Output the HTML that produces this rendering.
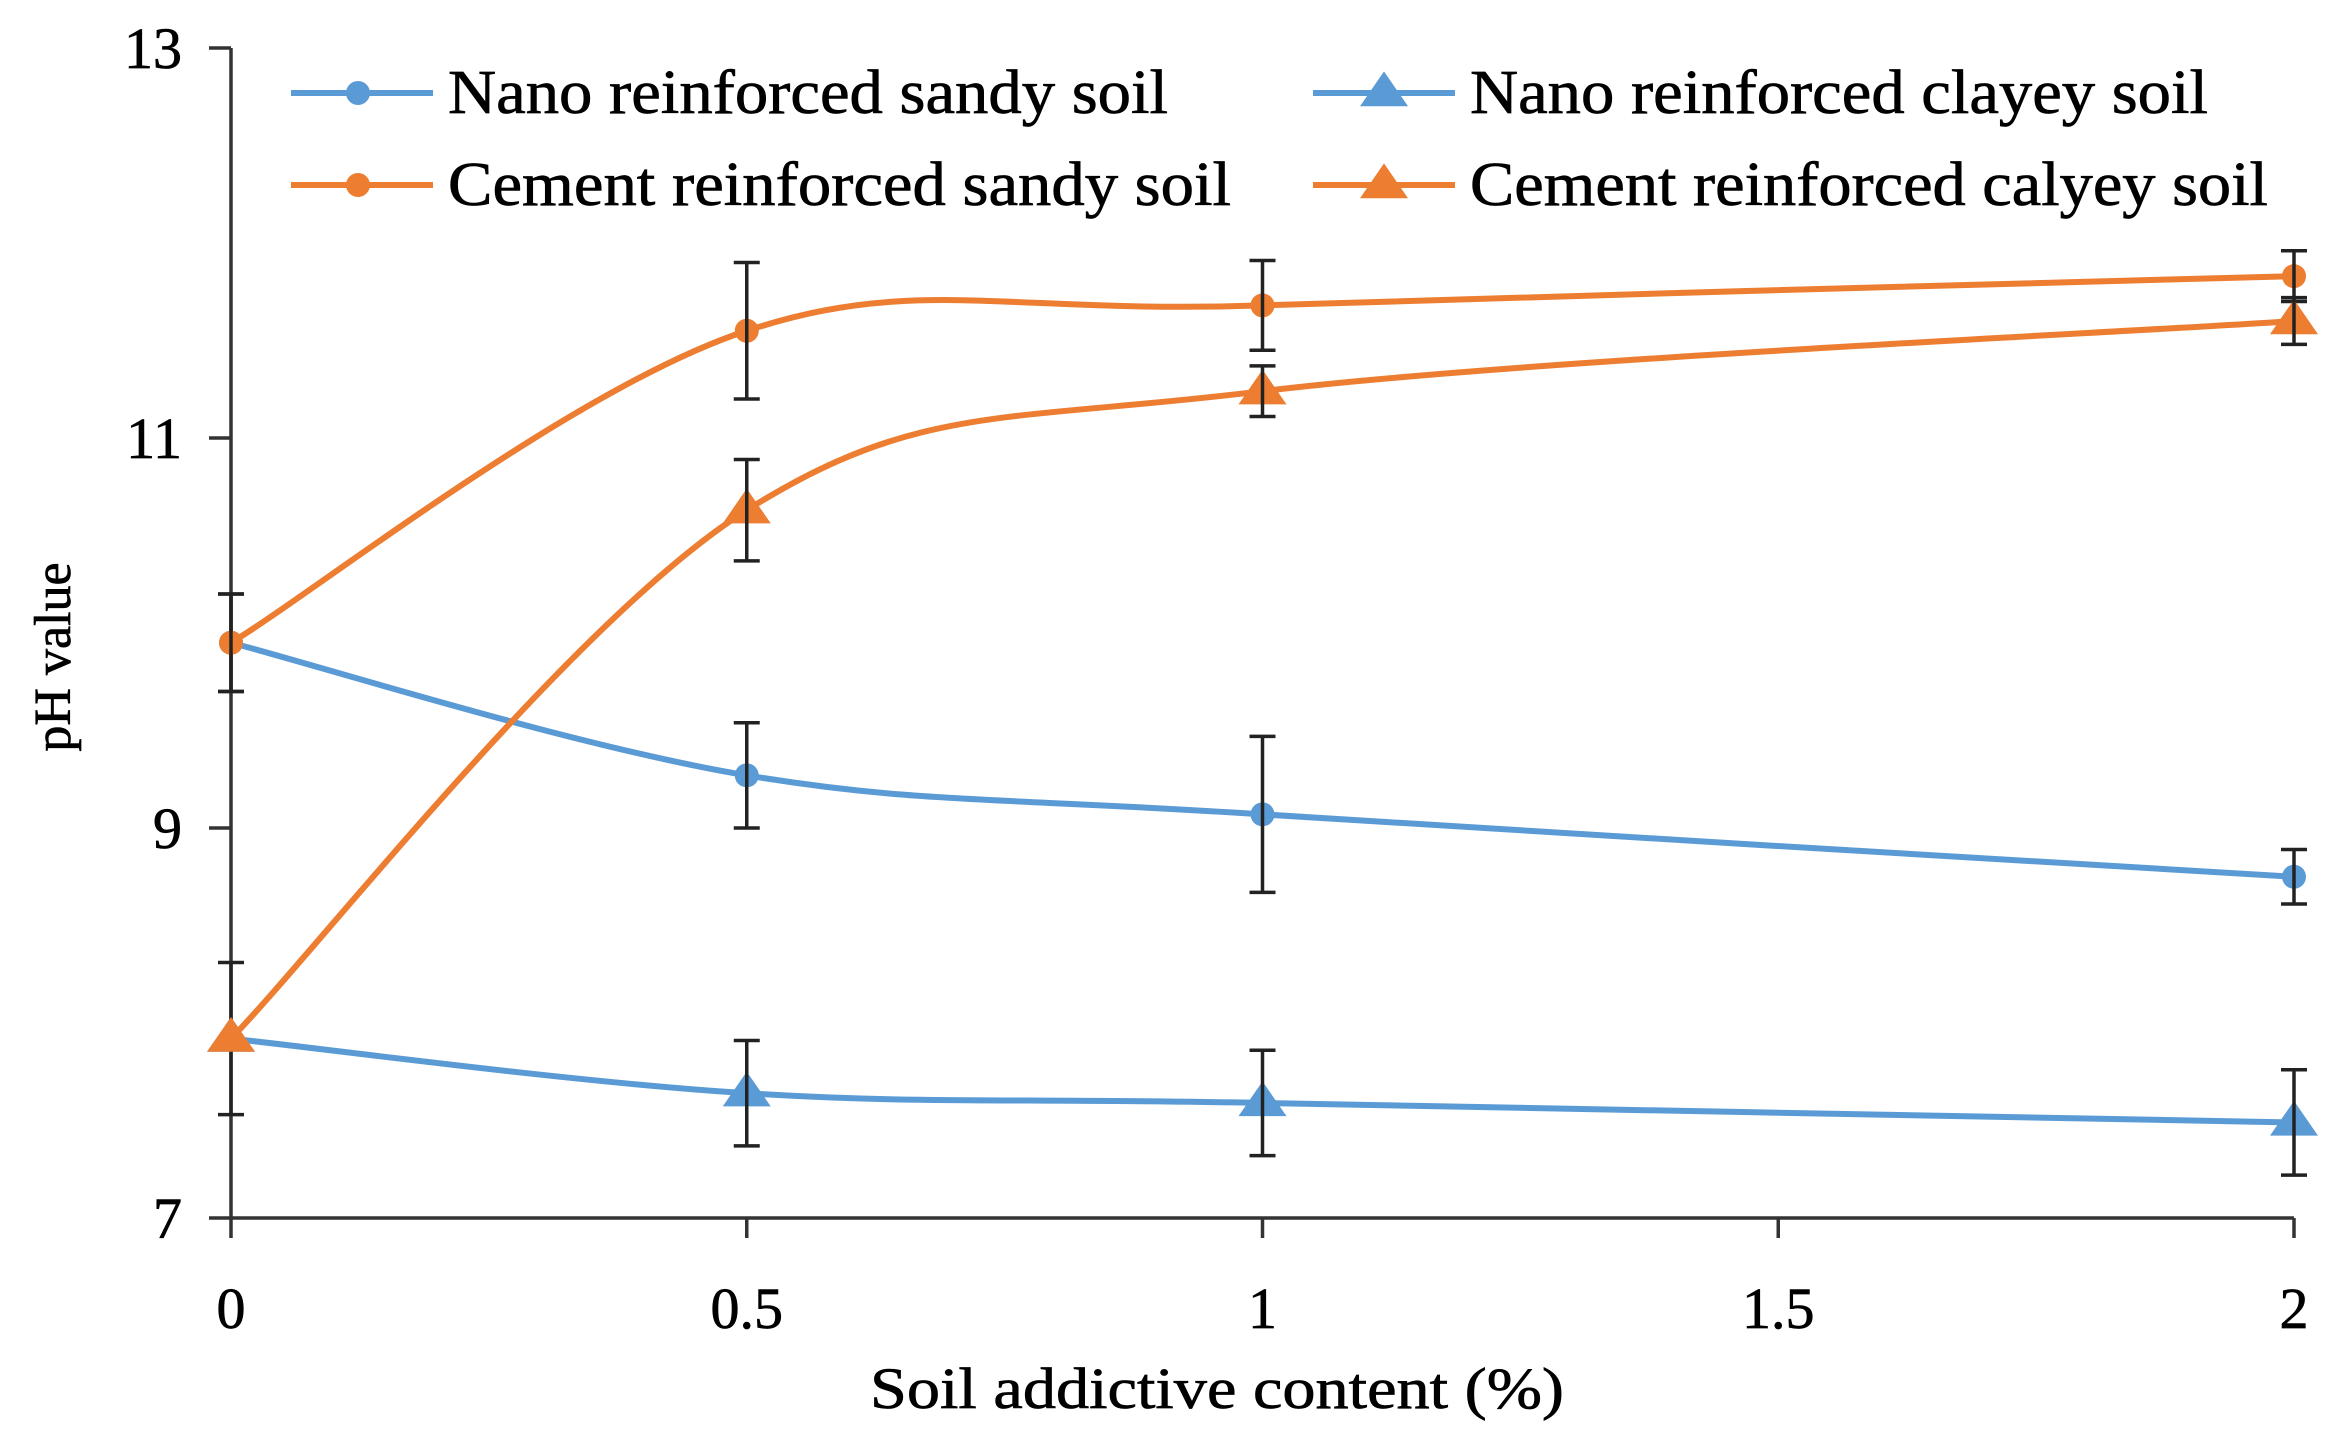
<!DOCTYPE html>
<html><head><meta charset="utf-8"><style>
html,body{margin:0;padding:0;background:#fff}
svg{display:block}
text{font-family:"Liberation Serif",serif;fill:#000;stroke:#000;stroke-width:0.7}
</style></head><body>
<svg id="chart" width="2340" height="1429" viewBox="0 0 2340 1429" xmlns="http://www.w3.org/2000/svg"></svg>
<script>
const xValues=[0,0.5,1,2];
const nanoSandy=[9.95,9.27,9.07,8.75];
const nanoSandyErr=[0.25,0.27,0.4,0.14];
const nanoClayey=[7.92,7.64,7.59,7.49];
const nanoClayeyErr=[0.39,0.27,0.27,0.27];
const cementSandy=[9.95,11.55,11.68,11.83];
const cementSandyErr=[0.25,0.35,0.23,0.13];
const cementClayey=[7.92,10.63,11.24,11.6];
const cementClayeyErr=[0,0.26,0.13,0.12];
const yTicks=[7,9,11,13];
const xTicks=[0,0.5,1,1.5,2];
const xTickLabels=["0","0.5","1","1.5","2"];

const NS="http://www.w3.org/2000/svg";
const svg=document.getElementById('chart');
const X0=231,X1=2294,Y13=48,Y7=1218;
const sx=v=>X0+(v-0)/(2-0)*(X1-X0);
const sy=v=>Y7-(v-7)/(13-7)*(Y7-Y13);
function el(tag,attrs,parent){const e=document.createElementNS(NS,tag);for(const k in attrs)e.setAttribute(k,attrs[k]);(parent||svg).appendChild(e);return e;}
const BLUE="#5B9BD5",ORANGE="#ED7D31";

const ax=el('g',{});


el('line',{x1:X0,y1:Y13,x2:X0,y2:Y7,stroke:'#333','stroke-width':3.5},ax);
el('line',{x1:X0,y1:Y7,x2:X1,y2:Y7,stroke:'#333','stroke-width':3.5},ax);
yTicks.forEach(t=>{
  el('line',{x1:X0-22,y1:sy(t),x2:X0,y2:sy(t),stroke:'#333','stroke-width':3.5},ax);
  const tx=el('text',{x:182,y:sy(t)+20,'text-anchor':'end','font-size':58},ax);
  tx.textContent=t;
  
  
});
xTicks.forEach((t,i)=>{
  el('line',{x1:sx(t),y1:Y7,x2:sx(t),y2:Y7+20,stroke:'#333','stroke-width':3.5},ax);
  const tx=el('text',{x:sx(t),y:1328,'text-anchor':'middle','font-size':58},ax);
  tx.textContent=xTickLabels[i];
  
  
});
const yt=el('text',{x:0,y:0,'text-anchor':'middle','font-size':52,transform:'translate(70,657) rotate(-90)'});
yt.textContent='pH value';


const xt=el('text',{x:1217,y:1408,'text-anchor':'middle','font-size':58,textLength:694,lengthAdjust:'spacingAndGlyphs'});
xt.textContent='Soil addictive content (%)';



function smoothPath(pts){
  let d=`M${pts[0][0]},${pts[0][1]}`;
  for(let i=0;i<pts.length-1;i++){
    const p0=pts[i-1]||pts[i],p1=pts[i],p2=pts[i+1],p3=pts[i+2]||p2;
    const t=1/6;
    const c1=[p1[0]+(p2[0]-p0[0])*t,p1[1]+(p2[1]-p0[1])*t];
    const c2=[p2[0]-(p3[0]-p1[0])*t,p2[1]-(p3[1]-p1[1])*t];
    d+=` C${c1[0]},${c1[1]} ${c2[0]},${c2[1]} ${p2[0]},${p2[1]}`;
  }
  return d;
}
function tri(cx,cy,s){return `${cx},${cy-s*0.9} ${cx-s},${cy+s*0.55} ${cx+s},${cy+s*0.55}`;}
function series(name,vals,errs,color,marker){
  const g=el('g',{});
  
  
  const pts=xValues.map((x,i)=>[sx(x),sy(vals[i])]);
  el('path',{d:smoothPath(pts),fill:'none',stroke:color,'stroke-width':6},g);
  pts.forEach((p,i)=>{
    if(marker==='circle'){const c=el('circle',{cx:p[0],cy:p[1],r:12,fill:color},g);
      }
    else{const c=el('polygon',{points:tri(p[0],p[1],24),fill:color},g);
      }
    if(errs[i]>0){
      const e=el('g',{stroke:'#222','stroke-width':3.5},g);
      
      
      const t=sy(vals[i]+errs[i]),b=sy(vals[i]-errs[i]);
      el('line',{x1:p[0],y1:t,x2:p[0],y2:b},e);
      el('line',{x1:p[0]-13,y1:t,x2:p[0]+13,y2:t},e);
      el('line',{x1:p[0]-13,y1:b,x2:p[0]+13,y2:b},e);
    }
  });
}
series('nano-sandy-series',nanoSandy,nanoSandyErr,BLUE,'circle');
series('nano-clayey-series',nanoClayey,nanoClayeyErr,BLUE,'tri');
series('cement-sandy-series',cementSandy,cementSandyErr,ORANGE,'circle');
series('cement-clayey-series',cementClayey,cementClayeyErr,ORANGE,'tri');

const lg=el('g',{});


const entries=[
 [291,93,BLUE,'circle','Nano reinforced sandy soil',448,720],
 [1313,93,BLUE,'tri','Nano reinforced clayey soil',1470,738],
 [291,185,ORANGE,'circle','Cement reinforced sandy soil',448,783],
 [1313,185,ORANGE,'tri','Cement reinforced calyey soil',1470,798]
];
entries.forEach(e=>{
  const g=el('g',{},lg);
  
  
  el('line',{x1:e[0],y1:e[1],x2:e[0]+142,y2:e[1],stroke:e[2],'stroke-width':6},g);
  if(e[3]==='circle')el('circle',{cx:e[0]+67,cy:e[1],r:12,fill:e[2]},g);
  else el('polygon',{points:tri(e[0]+71,e[1],24),fill:e[2]},g);
  const t=el('text',{x:e[5],y:e[1]+20,'font-size':62,textLength:e[6],lengthAdjust:'spacingAndGlyphs'},g);
  t.textContent=e[4];
});
</script>
</body></html>
